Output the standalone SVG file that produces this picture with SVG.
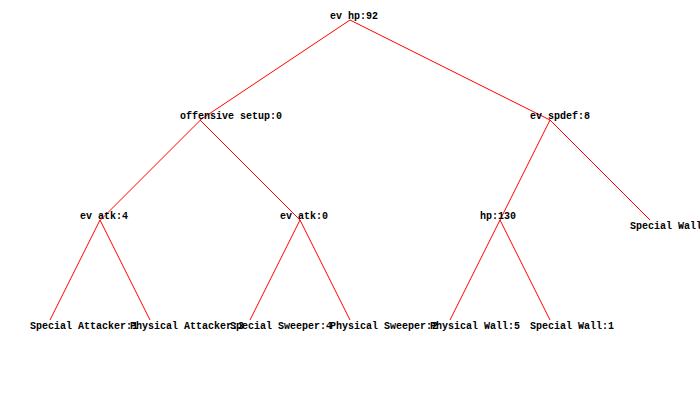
<svg xmlns="http://www.w3.org/2000/svg" width="700" height="420" viewBox="0 0 700 420">
<style>
text{font-family:"Liberation Mono","Courier New",monospace;font-size:10px;font-weight:bold;fill:#000}
</style>
<rect width="700" height="420" fill="#fff"/>
<g id="connectors" stroke="#ff0000" stroke-width="1" fill="none">
<path d="M350 20L200 120"/>
<path d="M350 20L550 120"/>
<path d="M200.5 120L100.5 220"/>
<path d="M200 120L300 220"/>
<path d="M550 120L500 220"/>
<path d="M550 120L650 220"/>
<path d="M100 220L50 320"/>
<path d="M100 220L150 320"/>
<path d="M300 220L250 320"/>
<path d="M300 220L350 320"/>
<path d="M500 220L450 320"/>
<path d="M500 220L550 320"/>
</g>
<g id="n-root"><text x="330" y="19">ev hp:92</text></g>
<g id="n-offensive"><text x="180" y="119">offensive setup:0</text></g>
<g id="n-spdef"><text x="530" y="119">ev spdef:8</text></g>
<g id="n-atk4"><text x="80" y="219">ev atk:4</text></g>
<g id="n-atk0"><text x="280" y="219">ev atk:0</text></g>
<g id="n-hp130"><text x="480" y="219">hp:130</text></g>
<g id="n-specialwall-a"><text x="630" y="229">Special Wall</text></g>
<g id="n-specatt"><text x="30" y="329">Special Attacker:1</text></g>
<g id="n-physatt"><text x="130" y="329">Physical Attacker:3</text></g>
<g id="n-specsweep"><text x="230" y="329">Special Sweeper:4</text></g>
<g id="n-physsweep"><text x="330" y="329">Physical Sweeper:2</text></g>
<g id="n-physwall"><text x="430" y="329">Physical Wall:5</text></g>
<g id="n-specwall"><text x="530" y="329">Special Wall:1</text></g>
</svg>
